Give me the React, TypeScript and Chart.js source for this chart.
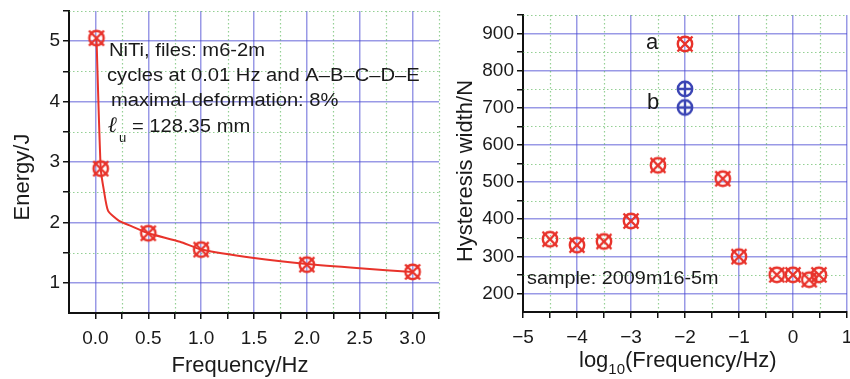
import React, { useEffect, useRef } from 'react';
import { Chart, registerables } from 'chart.js';
Chart.register(...registerables);

// ---------- data: left panel ----------
const freqHz = [0.01, 0.05, 0.5, 1, 2, 3];
const energyJ = [5.05, 2.89, 1.82, 1.55, 1.3, 1.18];
const fitFreqHz = [0.01, 0.05, 0.08, 0.12, 0.22, 0.35, 0.5, 0.8, 1.0, 1.5, 2.0, 2.5, 3.0];
const fitEnergyJ = [5.05, 2.89, 2.53, 2.19, 2.03, 1.93, 1.82, 1.68, 1.55, 1.41, 1.31, 1.24, 1.18];
const leftXMajor = [0, 0.5, 1, 1.5, 2, 2.5, 3];
const leftXMinor = [0.25, 0.75, 1.25, 1.75, 2.25, 2.75, 3.25];
const leftYMajor = [1, 2, 3, 4, 5];
const leftYMinor = [1.5, 2.5, 3.5, 4.5, 5.5];

// ---------- data: right panel ----------
const logFreqA = [-4.5, -4, -3.5, -3, -2.5, -2, -1.3, -1, -0.3, 0, 0.3, 0.48];
const widthA = [346, 330, 340, 395, 545, 872, 509, 299, 250, 250, 237, 250];
const logFreqB = [-2, -2];
const widthB = [751, 701];
const rightXMajor = [-5, -4, -3, -2, -1, 0, 1];
const rightXMinor = [-4.5, -3.5, -2.5, -1.5, -0.5, 0.5];
const rightYMajor = [200, 300, 400, 500, 600, 700, 800, 900];
const rightYMinor = [250, 350, 450, 550, 650, 750, 850, 950];

const FONT = "'Liberation Sans', Arial, Helvetica, sans-serif";
const BLUE_GRID = 'rgba(70,70,210,0.55)';
const GREEN_GRID = 'rgba(60,170,60,0.55)';
const RED = '#e8332b';
const NAVY = '#3a44b4';
const INK = '#1a1a1a';

function makeMarker(color: string, kind: 'x' | 'plus') {
  const c = document.createElement('canvas');
  c.width = 20;
  c.height = 20;
  const g = c.getContext('2d')!;
  g.strokeStyle = color;
  g.lineWidth = 2.4;
  g.beginPath();
  g.arc(10, 10, 7.2, 0, Math.PI * 2);
  g.stroke();
  g.beginPath();
  if (kind === 'x') {
    g.moveTo(2.5, 2.5); g.lineTo(17.5, 17.5);
    g.moveTo(17.5, 2.5); g.lineTo(2.5, 17.5);
  } else {
    g.moveTo(10, 2.8); g.lineTo(10, 17.2);
    g.moveTo(2.8, 10); g.lineTo(17.2, 10);
  }
  g.stroke();
  return c;
}

function pts(xs: number[], ys: number[]) {
  return xs.map((x, i) => ({ x, y: ys[i] }));
}

function stretched(ctx: CanvasRenderingContext2D, text: string, x: number, y: number, size: number, sx: number) {
  ctx.save();
  ctx.font = `${size}px ${FONT}`;
  ctx.translate(x, y);
  ctx.scale(sx, 1);
  ctx.fillText(text, 0, 0);
  const w = ctx.measureText(text).width * sx;
  ctx.restore();
  return w;
}

function minorGridPlugin(xMinor: number[], yMinor: number[]) {
  return {
    id: 'minorGrid',
    beforeDatasetsDraw(chart: any) {
      const { ctx, chartArea: a, scales } = chart;
      ctx.save();
      ctx.strokeStyle = GREEN_GRID;
      ctx.lineWidth = 1.2;
      ctx.setLineDash([1.5, 2.5]);
      ctx.beginPath();
      xMinor.forEach((v) => {
        const px = Math.round(scales.x.getPixelForValue(v)) + 0.5;
        ctx.moveTo(px, a.top);
        ctx.lineTo(px, a.bottom);
      });
      yMinor.forEach((v) => {
        const py = Math.round(scales.y.getPixelForValue(v)) + 0.5;
        ctx.moveTo(a.left, py);
        ctx.lineTo(a.right, py);
      });
      ctx.stroke();
      ctx.restore();
    },
  };
}

function axisCfg(min: number, max: number, major: number[], minor: number[], size: number, isX: boolean, fmt: (v: number) => string) {
  const all = [...major, ...minor].sort((a, b) => a - b);
  return {
    type: 'linear',
    min,
    max,
    afterBuildTicks: (s: any) => {
      s.ticks = all.map((v) => ({ value: v }));
    },
    afterFit: (s: any) => {
      if (isX) s.height = size;
      else s.width = size;
      s.paddingLeft = 0;
      s.paddingRight = 0;
      s.paddingTop = 0;
      s.paddingBottom = 0;
    },
    ticks: {
      autoSkip: false,
      maxRotation: 0,
      padding: isX ? 8 : 3,
      color: INK,
      font: { family: FONT, size: 19 },
      callback: (v: number) => (major.includes(v) ? fmt(v) : ''),
    },
    grid: {
      color: (c: any) => (c.tick && major.includes(c.tick.value) ? BLUE_GRID : 'rgba(0,0,0,0)'),
      lineWidth: 1.5,
      tickColor: '#111',
      tickLength: 6,
      tickWidth: 1.5,
    },
    border: { display: true, color: '#111', width: 2 },
    title: { display: false },
  };
}

const commonOpts = {
  responsive: false,
  animation: false,
  plugins: { legend: { display: false }, tooltip: { enabled: false } },
};

export default function App() {
  const leftRef = useRef<HTMLCanvasElement>(null);
  const rightRef = useRef<HTMLCanvasElement>(null);

  useEffect(() => {
    const redMarker = makeMarker(RED, 'x');
    const blueMarker = makeMarker(NAVY, 'plus');

    const leftText = {
      id: 'leftText',
      afterDraw(chart: any) {
        const ctx: CanvasRenderingContext2D = chart.ctx;
        ctx.save();
        ctx.fillStyle = INK;
        ctx.textBaseline = 'alphabetic';
        ctx.textAlign = 'left';
        const sx = 1.12;
        stretched(ctx, 'NiTi, files: m6-2m', 109, 56, 18, sx);
        stretched(ctx, 'cycles at 0.01 Hz and A\u2013B\u2013C\u2013D\u2013E', 107, 81, 18, sx);
        stretched(ctx, 'maximal deformation: 8%', 111, 106, 18, sx);
        ctx.font = "italic bold 22px 'DejaVu Serif', serif";
        ctx.fillText('\u2113', 108, 132);
        ctx.font = `13px ${FONT}`;
        ctx.fillText('u', 119, 142);
        stretched(ctx, '= 128.35 mm', 132, 132, 18, sx);
        // axis titles
        ctx.font = `22px ${FONT}`;
        ctx.textAlign = 'center';
        ctx.fillText('Frequency/Hz', 240, 372);
        ctx.save();
        ctx.translate(29, 177);
        ctx.rotate(-Math.PI / 2);
        ctx.fillText('Energy/J', 0, 0);
        ctx.restore();
        ctx.restore();
      },
    };

    const rightText = {
      id: 'rightText',
      afterDraw(chart: any) {
        const ctx: CanvasRenderingContext2D = chart.ctx;
        ctx.save();
        ctx.fillStyle = INK;
        ctx.textBaseline = 'alphabetic';
        ctx.textAlign = 'left';
        stretched(ctx, 'sample: 2009m16-5m', 527 - 445, 284, 18, 1.1);
        ctx.font = `22px ${FONT}`;
        ctx.textAlign = 'center';
        ctx.fillText('a', 652 - 445, 49);
        ctx.fillText('b', 653 - 445, 109);
        // x title with subscript
        ctx.textAlign = 'left';
        let x = 579 - 445;
        ctx.font = `22px ${FONT}`;
        ctx.fillText('log', x, 367);
        x += ctx.measureText('log').width;
        ctx.font = `15px ${FONT}`;
        ctx.fillText('10', x, 374);
        x += ctx.measureText('10').width;
        ctx.font = `22px ${FONT}`;
        ctx.fillText('(Frequency/Hz)', x, 367);
        // y title
        ctx.textAlign = 'center';
        ctx.save();
        ctx.translate(472 - 445, 171);
        ctx.rotate(-Math.PI / 2);
        ctx.fillText('Hysteresis width/N', 0, 0);
        ctx.restore();
        ctx.restore();
      },
    };

    const left = new Chart(leftRef.current!, {
      type: 'scatter',
      data: {
        datasets: [
          {
            data: pts(freqHz, energyJ),
            pointStyle: redMarker as any,
            pointRadius: 10,
            showLine: false,
          },
          {
            data: pts(fitFreqHz, fitEnergyJ),
            showLine: true,
            borderColor: RED,
            borderWidth: 2,
            pointRadius: 0,
            tension: 0.2,
          },
        ],
      },
      options: {
        ...commonOpts,
        layout: { padding: { top: 10, right: 0, left: 0, bottom: 0 } },
        scales: {
          x: axisCfg(-0.25, 3.25, leftXMajor, leftXMinor, 66, true, (v) => v.toFixed(1)),
          y: axisCfg(0.5, 5.5, leftYMajor, leftYMinor, 69, false, (v) => String(v)),
        },
      } as any,
      plugins: [minorGridPlugin(leftXMinor, leftYMinor), leftText],
    });

    const right = new Chart(rightRef.current!, {
      type: 'scatter',
      data: {
        datasets: [
          {
            data: pts(logFreqA, widthA),
            pointStyle: redMarker as any,
            pointRadius: 10,
          },
          {
            data: pts(logFreqB, widthB),
            pointStyle: blueMarker as any,
            pointRadius: 10,
          },
        ],
      },
      options: {
        ...commonOpts,
        layout: { padding: { top: 15, right: 0, left: 0, bottom: 0 } },
        scales: {
          x: axisCfg(-5, 1, rightXMajor, rightXMinor, 67, true, (v) => (v < 0 ? '\u2212' + Math.abs(v) : String(v))),
          y: axisCfg(150, 950, rightYMajor, rightYMinor, 78, false, (v) => String(v)),
        },
      } as any,
      plugins: [minorGridPlugin(rightXMinor, rightYMinor), rightText],
    });

    return () => {
      left.destroy();
      right.destroy();
    };
  }, []);

  return (
    <div style={{ position: 'fixed', left: 0, top: 0, width: 850, height: 379, background: '#fff', overflow: 'hidden' }}>
      <canvas ref={leftRef} width={450} height={379} style={{ position: 'absolute', left: 0, top: 0, width: 450, height: 379 }} />
      <canvas ref={rightRef} width={413} height={379} style={{ position: 'absolute', left: 445, top: 0, width: 413, height: 379 }} />
    </div>
  );
}
